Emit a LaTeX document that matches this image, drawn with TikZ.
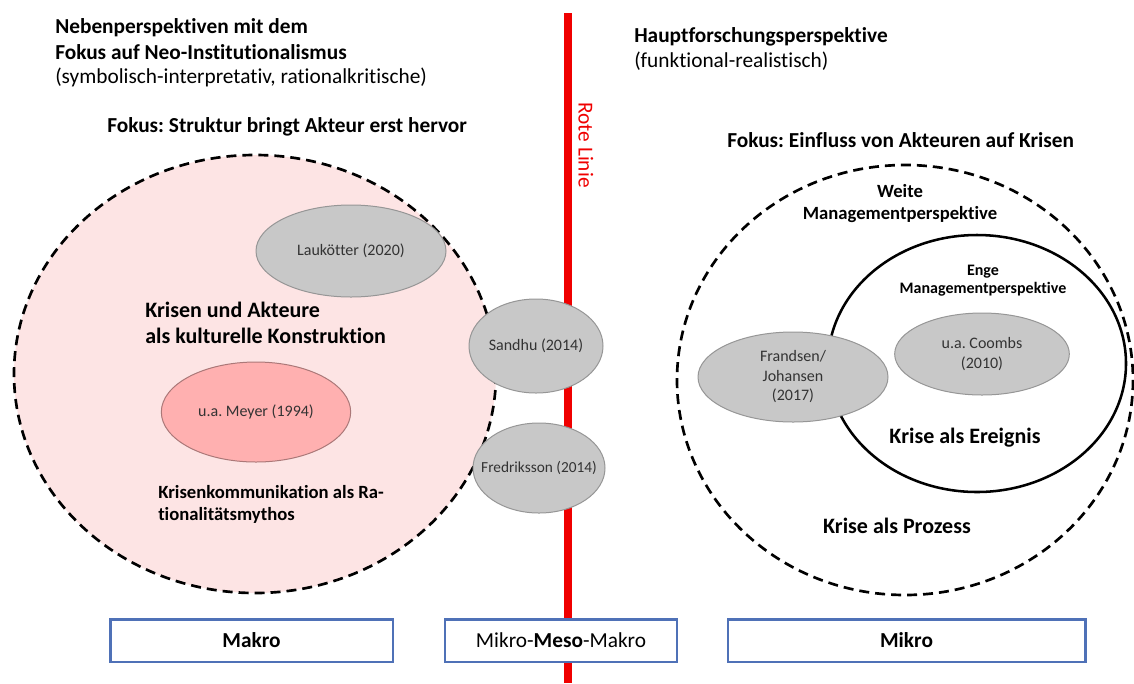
\documentclass[tikz,border=0pt]{standalone}
\usepackage{fontspec}
\setmainfont{Carlito}[Ligatures={NoCommon}]
\usetikzlibrary{shapes.geometric}
\frenchspacing

\definecolor{rotlinie}{RGB}{240,0,0}
\definecolor{rosahell}{RGB}{253,228,228}
\definecolor{rosa}{RGB}{255,176,176}
\definecolor{grauf}{RGB}{200,200,200}
\definecolor{graur}{RGB}{150,150,150}
\definecolor{kastenblau}{RGB}{79,113,183}

\tikzset{
  quelle/.style={ellipse, draw=graur, line width=0.75pt, fill=grauf, inner sep=0pt,
    align=center, text=black!80, font=\fontsize{12}{14.6}\selectfont},
  ebene/.style={draw=kastenblau, line width=2pt, fill=white, inner sep=0pt,
    minimum height=32pt, font=\fontsize{16}{18}\selectfont},
  kreisgestr/.style={line width=2pt, dash pattern=on 7.5pt off 4.5pt},
  gross/.style={inner sep=0pt, font=\fontsize{16}{18}\selectfont\bfseries},
}

\begin{document}
\begin{tikzpicture}[x=0.75pt,y=0.75pt,yscale=-1,xscale=1]
\useasboundingbox (0,0) rectangle (1134,683);

%Straight Lines (rote Linie)
\coordinate (linieoben) at (568,13);
\coordinate (linieunten) at (568,683);
\draw [color=rotlinie, line width=5.5pt] (linieoben) -- (linieunten) ;

%Shape: Ellipse (links, Neo-Institutionalismus)
\draw [kreisgestr, fill=rosahell] (255,374) ellipse [x radius=241, y radius=219] ;
%Shape: Ellipse (rechts, weite Perspektive)
\draw [kreisgestr] (905,380) ellipse [x radius=228, y radius=215] ;
%Shape: Ellipse (rechts, enge Perspektive)
\draw [line width=1.9pt] (977,363.5) ellipse [x radius=149, y radius=128.5] ;

% Ellipse Nodes
\node [quelle, minimum width=142.5pt, minimum height=69pt] (laukoetter) at (351,251) {Laukötter (2020)};
\node [quelle, fill=rosa, draw=graur!80!red, minimum width=142pt, minimum height=75pt] (meyer) at (256,412) {u.a. Meyer (1994)};
\node [quelle, minimum width=100.5pt, minimum height=70.5pt] (sandhu) at (536,346) {Sandhu (2014)};
\node [quelle, inner xsep=-9pt, font=\fontsize{11.5}{14}\selectfont, minimum width=99pt, minimum height=67.5pt] (fredriksson) at (539,468) {Fredriksson (2014)};
\node [quelle, minimum width=142.5pt, minimum height=67.5pt] (frandsen) at (793,377) {Frandsen/\\Johansen\\(2017)};
\node [quelle, minimum width=131pt, minimum height=61.5pt] (coombs) at (982,354) {u.a. Coombs\\(2010)};

% Text Node
\draw (55,33) node [anchor=base west, gross] (neben1) {Nebenperspektiven mit dem};
% Text Node
\draw (55,59) node [anchor=base west, gross] (neben2) {Fokus auf Neo-Institutionalismus};
% Text Node
\draw (55,83) node [anchor=base west, gross, font=\fontsize{16}{18}\selectfont\mdseries] (neben3) {(symbolisch-interpretativ, rationalkritische)};
% Text Node
\draw (634,42) node [anchor=base west, gross] (haupt1) {Hauptforschungsperspektive};
% Text Node
\draw (634,67) node [anchor=base west, gross, font=\fontsize{16}{18}\selectfont\mdseries] (haupt2) {(funktional-realistisch)};
% Text Node
\draw (107,132) node [anchor=base west, gross] (fokuslinks) {Fokus: Struktur bringt Akteur erst hervor};
% Text Node
\draw (727,147) node [anchor=base west, gross] (fokusrechts) {Fokus: Einfluss von Akteuren auf Krisen};
% Text Node
\draw (586,145) node [rotate=-90, inner sep=0pt, text=rotlinie, font=\fontsize{16}{18}\selectfont] (rotelinie) {Rote Linie};
% Text Node
\draw (145,317) node [anchor=base west, gross, font=\fontsize{16.5}{18}\selectfont\bfseries] (krisen1) {Krisen und Akteure};
% Text Node
\draw (145,343) node [anchor=base west, gross, font=\fontsize{16.5}{18}\selectfont\bfseries] (krisen2) {als kulturelle Konstruktion};
% Text Node
\draw (158,498) node [anchor=base west, gross, font=\fontsize{14}{16}\selectfont\bfseries] (mythos1) {Krisenkommunikation als Ra-};
% Text Node
\draw (158,520) node [anchor=base west, gross, font=\fontsize{14}{16}\selectfont\bfseries] (mythos2) {tionalitätsmythos};
% Text Node
\draw (900,197) node [anchor=base, gross, font=\fontsize{14}{16}\selectfont\bfseries] (weite1) {Weite};
% Text Node
\draw (900,219) node [anchor=base, gross, font=\fontsize{14}{16}\selectfont\bfseries] (weite2) {Managementperspektive};
% Text Node
\draw (983,275) node [anchor=base, gross, font=\fontsize{12}{14}\selectfont\bfseries] (enge1) {Enge};
% Text Node
\draw (983,293) node [anchor=base, gross, font=\fontsize{12}{14}\selectfont\bfseries] (enge2) {Managementperspektive};
% Text Node
\draw (965,443) node [anchor=base, gross, font=\fontsize{16.5}{18}\selectfont\bfseries] (ereignis) {Krise als Ereignis};
% Text Node
\draw (897,533) node [anchor=base, gross, font=\fontsize{16.5}{18}\selectfont\bfseries] (prozess) {Krise als Prozess};

% Ebenen
\node [ebene, minimum width=212pt] (makro) at (251.5,640.5) {\bfseries Makro};
\node [ebene, minimum width=174pt] (meso) at (561,640.5) {Mikro-\textbf{Meso}-Makro};
\node [ebene, minimum width=268pt] (mikro) at (906.5,640.5) {\bfseries Mikro};

\end{tikzpicture}
\end{document}
